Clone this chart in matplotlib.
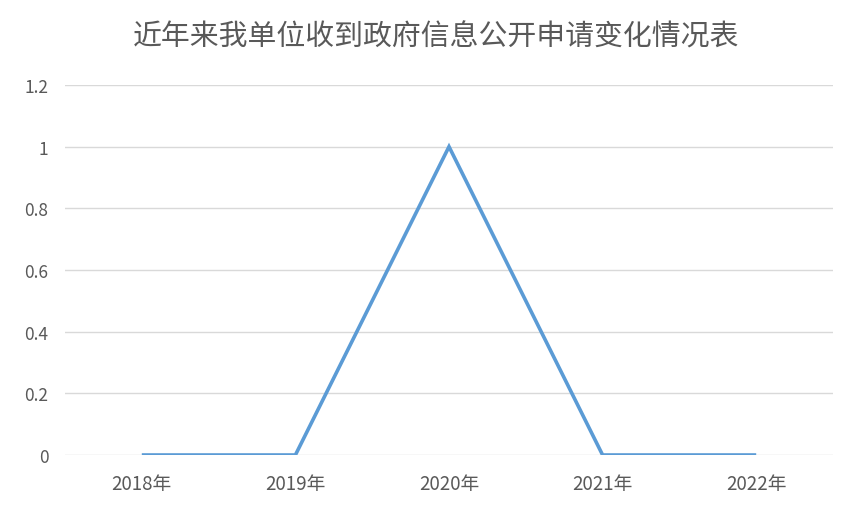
import matplotlib
matplotlib.use("Agg")
import matplotlib.pyplot as plt

plt.rcParams['font.family'] = ['Noto Sans CJK SC', 'DejaVu Sans']

categories = ["2018年", "2019年", "2020年", "2021年", "2022年"]
values = [0, 0, 1, 0, 0]
yticks = [0, 0.2, 0.4, 0.6, 0.8, 1, 1.2]
ytick_labels = ["0", "0.2", "0.4", "0.6", "0.8", "1", "1.2"]
title = "近年来我单位收到政府信息公开申请变化情况表"

fig = plt.figure(figsize=(8.51, 5.06), dpi=100)
ax = fig.add_axes([65/851, 50/506, (833-65)/851, (456-86)/506])

x = list(range(len(categories)))
ax.plot(x, values, color="#5B9BD5", linewidth=2.6, solid_capstyle="butt", solid_joinstyle="miter", zorder=3)

ax.set_xlim(-0.5, len(categories) - 0.5)
ax.set_ylim(0, 1.2)
ax.set_yticks(yticks)
ax.set_yticklabels(ytick_labels)
ax.set_xticks(x)
ax.set_xticklabels(categories)
ax.yaxis.grid(True, color="#D9D9D9", linewidth=1.0)
ax.set_axisbelow(True)
for s in ax.spines.values():
    s.set_visible(False)
ax.tick_params(axis="both", length=0, colors="#595959")
ax.tick_params(axis="y", pad=12, labelsize=12.5)
ax.tick_params(axis="x", pad=13, labelsize=13.5)

fig.text(436/851, 1 - 38/506, title, ha="center", va="center", fontsize=20.8, color="#595959")

fig.savefig("out.png", dpi=100)
